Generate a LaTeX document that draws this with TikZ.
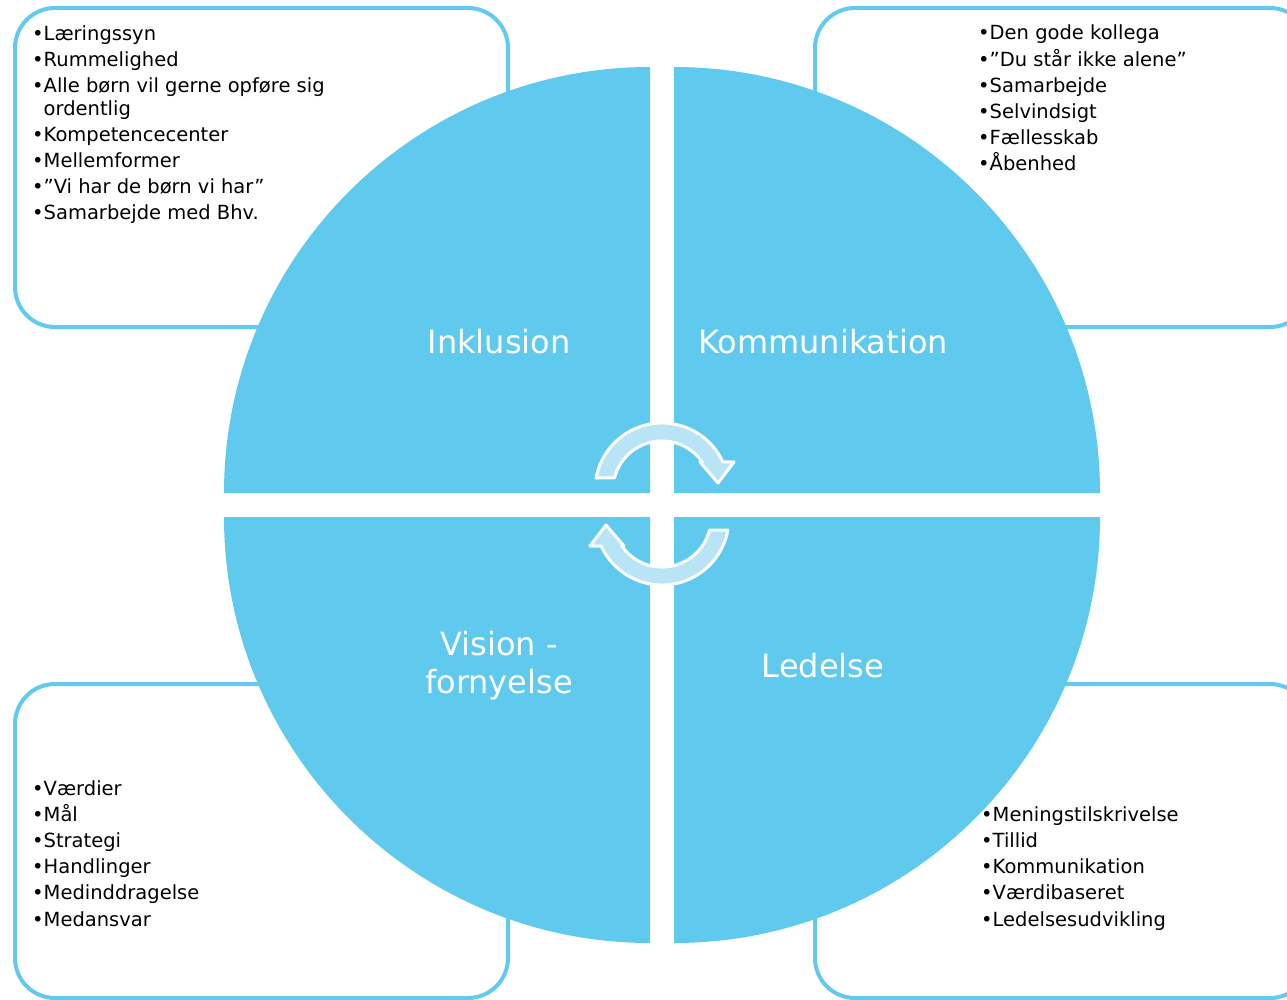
\documentclass[tikz,border=0pt]{standalone}
\usepackage{fontspec}
\setmainfont{DejaVu Sans}

\definecolor{quadblue}{HTML}{5FCAEE}
\definecolor{frameblue}{HTML}{64C9EF}
\definecolor{arrowblue}{HTML}{B8E4F6}

\newcommand{\itm}{\textbullet}

\tikzset{
  listbox/.style={draw=frameblue, line width=4pt, fill=white, rounded corners=40pt},
  quad/.style={fill=quadblue},
  quadlabel/.style={text=white, align=center, font=\fontsize{32}{38}\selectfont},
  itemlist/.style={anchor=base west, inner sep=0pt, align=left, font=\fontsize{19.5}{26.2}\selectfont},
  cyclearrow/.style={fill=arrowblue, draw=white, line width=3pt, line join=round},
}

\begin{document}
\begin{tikzpicture}[x=1pt,y=-1pt]
	\useasboundingbox (0,0) rectangle (1287,1000);
	\clip (0,0) rectangle (1287,1000);

	% frames behind the circle
	\draw [listbox] (15,8) rectangle (508,327);
	\draw [listbox] (815,8) rectangle (1310,327);
	\draw [listbox] (15,684) rectangle (508,998);
	\draw [listbox] (815,684) rectangle (1310,998);

	% four quarters
	\path [quad] (650,493) -- ++(-426,0) arc [start angle=180, end angle=270, radius=426] -- cycle;
	\path [quad] (674,493) -- ++(0,-426) arc [start angle=270, end angle=360, radius=426] -- cycle;
	\path [quad] (674,517) -- ++(426,0) arc [start angle=0, end angle=90, radius=426] -- cycle;
	\path [quad] (650,517) -- ++(0,426) arc [start angle=90, end angle=180, radius=426] -- cycle;

	% cycle arrows
	\foreach \r in {0,180} {
		\begin{scope}[rotate around={\r:(662,504)}, shift={(662,490)}]
			\draw [cyclearrow] (-65.9,-12) arc [start angle=190.3, end angle=335.3, radius=67]
				-- (72,-28) -- (56,-7) -- (38,-28) -- (40.2,-28)
				arc [start angle=325.2, end angle=194.2, radius=49] -- cycle;
		\end{scope}
	}

	% quarter labels
	\node [quadlabel] (inkl) at (499,342) {Inklusion};
	\node [quadlabel] (komm) at (823,342) {Kommunikation};
	\node [quadlabel] (vision) at (499,666) {Vision -\\fornyelse};
	\node [quadlabel] (ledelse) at (823,666) {Ledelse};

	% lists (anchored at the baseline of their last line)
	\node [itemlist] (listinkl) at (32,220) {\itm{}Læringssyn\\ \itm{}Rummelighed\\
		\itm{}Alle børn vil gerne opføre sig\\[-3.5pt] \phantom{\itm}ordentlig\\
		\itm{}Kompetencecenter\\ \itm{}Mellemformer\\ \itm{}”Vi har de børn vi har”\\
		\itm{}Samarbejde med Bhv.};
	\node [itemlist] (listkomm) at (978,171) {\itm{}Den gode kollega\\ \itm{}”Du står ikke alene”\\
		\itm{}Samarbejde\\ \itm{}Selvindsigt\\ \itm{}Fællesskab\\ \itm{}Åbenhed};
	\node [itemlist] (listvision) at (32,926) {\itm{}Værdier\\ \itm{}Mål\\ \itm{}Strategi\\
		\itm{}Handlinger\\ \itm{}Medinddragelse\\ \itm{}Medansvar};
	\node [itemlist] (listledelse) at (981,926) {\itm{}Meningstilskrivelse\\ \itm{}Tillid\\
		\itm{}Kommunikation\\ \itm{}Værdibaseret\\ \itm{}Ledelsesudvikling};
\end{tikzpicture}
\end{document}
